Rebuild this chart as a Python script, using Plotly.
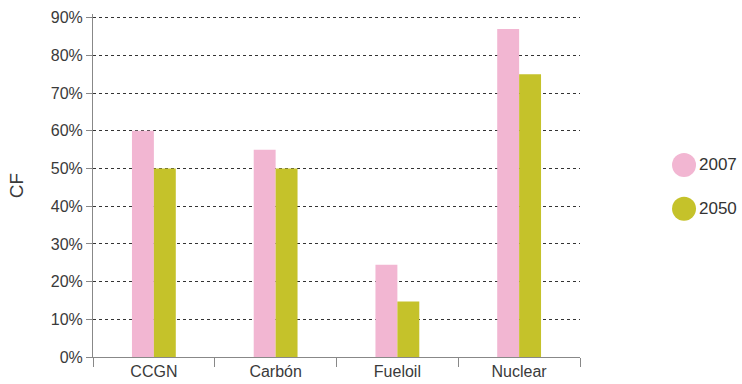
import plotly.graph_objects as go

categories = ['CCGN', 'Carbón', 'Fueloil', 'Nuclear']
cf_2007 = [60, 55, 24.5, 87]
cf_2050 = [50, 50, 14.7, 75]
series_names = ['2007', '2050']
colors = ['#F2B6D2', '#C5C22A']
y_ticks = list(range(0, 91, 10))

fig = go.Figure()
for name, vals, col in zip(series_names, [cf_2007, cf_2050], colors):
    fig.add_trace(go.Bar(x=categories, y=vals, name=name, marker_color=col,
                         marker_line_width=0, showlegend=False))

# legend drawn as circles + text (plotly caps legend marker size)
leg_y = [0.56, 0.432]
for name, col, yy in zip(series_names, colors, leg_y):
    fig.add_shape(type='circle', xref='paper', yref='paper',
                  xsizemode='pixel', ysizemode='pixel',
                  xanchor=1.2136, yanchor=yy,
                  x0=-12, x1=12, y0=-12, y1=12,
                  fillcolor=col, line_width=0)
    fig.add_annotation(x=1.2136, y=yy, xref='paper', yref='paper',
                       xshift=13, text=name, showarrow=False, xanchor='left',
                       font=dict(size=17, color='#333333'))

fig.update_layout(
    width=742, height=384,
    margin=dict(l=93, r=162, t=14, b=27, autoexpand=False),
    paper_bgcolor='white', plot_bgcolor='white',
    barmode='group', bargap=0.64, bargroupgap=0,
    font=dict(family='Liberation Sans, Arial, sans-serif', size=16, color='#3a3a3a'),
)
fig.update_yaxes(
    range=[0, 91], tickvals=y_ticks, ticktext=[f'{v}%' for v in y_ticks],
    showgrid=True, gridcolor='#333333', griddash='dot', gridwidth=1,
    showline=True, linecolor='#888888', linewidth=1,
    ticks='outside', ticklen=6, tickcolor='#888888',
    zeroline=False, automargin=False, title=dict(text='CF', standoff=22),
)
fig.update_xaxes(
    showline=True, linecolor='#888888', linewidth=1,
    ticks='outside', ticklen=9, tickcolor='#888888', tickson='boundaries',
    showgrid=False, automargin=False,
)

# page body has an 8px default margin; drop it so the figure sits at 0,0
fig.write_html('out.html', config={'displayModeBar': False},
               post_script="document.body.style.margin='0';")
